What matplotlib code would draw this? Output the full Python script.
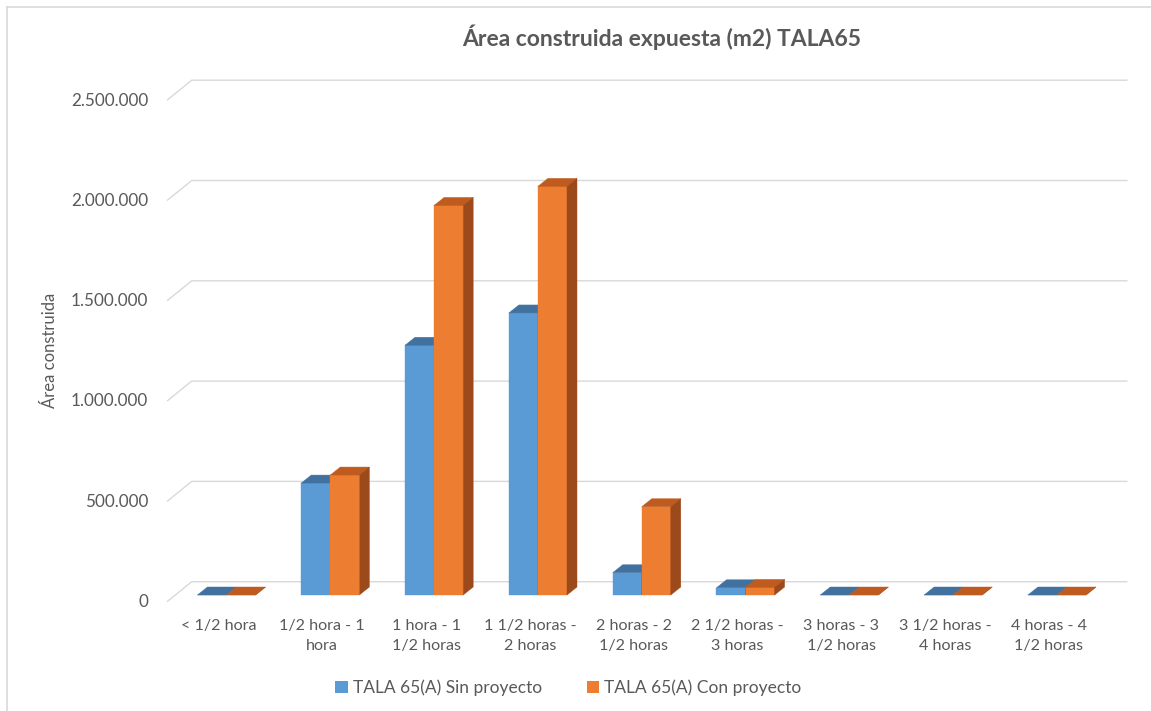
import matplotlib
matplotlib.use("Agg")
import matplotlib.pyplot as plt
from matplotlib.patches import Polygon, Patch
from matplotlib.lines import Line2D

plt.rcParams['font.family'] = ['Lato', 'DejaVu Sans']

# data
categories = ['< 1/2 hora', '1/2 hora - 1\nhora', '1 hora - 1\n1/2 horas',
              '1 1/2 horas -\n2 horas', '2 horas - 2\n1/2 horas',
              '2 1/2 horas -\n3 horas', '3 horas - 3\n1/2 horas',
              '3 1/2 horas -\n4 horas', '4 horas - 4\n1/2 horas']
sin_proyecto = [0, 558000, 1245000, 1406000, 111000, 36000, 0, 0, 0]
con_proyecto = [0, 598000, 1942000, 2037000, 440000, 38000, 0, 0, 0]
yticks = [0, 500000, 1000000, 1500000, 2000000, 2500000]
ytick_labels = ['0', '500.000', '1.000.000', '1.500.000', '2.000.000', '2.500.000']
series_names = ['TALA 65(A) Sin proyecto', 'TALA 65(A) Con proyecto']

W, H = 1151, 711
fig = plt.figure(figsize=(W / 100, H / 100), dpi=100)
ax = fig.add_axes([150 / W, (H - 615) / H, 990 / W, 555 / H])
ax.set_xlim(-0.737, 8.800)
ax.set_ylim(-99700, 2667000)
ax.axis('off')

# pixel -> data unit sizes
p0 = ax.transData.transform((0, 0))
p1 = ax.transData.transform((1, 1))
px_x = 1.0 / (p1[0] - p0[0])
px_y = 1.0 / (p1[1] - p0[1])

grid_c = '#D9D9D9'
text_c = '#595959'

# back wall gridlines with the slanted left wall edge
for v in yticks:
    xs = [-0.573, -0.573 + 24.7 * px_x, -0.573 + 960.5 * px_x]
    ys = [v - 6.7 * px_y, v + 13.3 * px_y, v + 13.3 * px_y]
    ax.plot(xs, ys, color=grid_c, lw=1.0, zorder=1, solid_capstyle='butt')

for v, lab in zip(yticks, ytick_labels):
    ax.text(-0.737 - 2 * px_x, v - 7 * px_y, lab, ha='right', va='center',
            fontsize=12.3, color=text_c, clip_on=False)

# fake 3d bars
bw = 0.28
dx = 10 * px_x
dy = 8 * px_y
colors = [('#5B9BD5', '#41729F', '#3F6E9A'), ('#ED7D31', '#BF5B1E', '#9C4A1C')]


def bar3d(x0, v, cols):
    front, top, side = cols
    x1 = x0 + bw
    for pts, c in [([(x0, 0), (x1, 0), (x1, v), (x0, v)], front),
                   ([(x0, v), (x1, v), (x1 + dx, v + dy), (x0 + dx, v + dy)], top),
                   ([(x1, 0), (x1 + dx, dy), (x1 + dx, v + dy), (x1, v)], side)]:
        ax.add_patch(Polygon(pts, closed=True, facecolor=c, edgecolor=c,
                             lw=0.3, zorder=3))


for i in range(len(categories)):
    bar3d(i - bw, sin_proyecto[i], colors[0])
    bar3d(i, con_proyecto[i], colors[1])

for i, lab in enumerate(categories):
    ax.text(i - 8 * px_x, -24 * px_y, lab, ha='center', va='top',
            fontsize=11.6, color=text_c, linespacing=1.5, clip_on=False)

fig.text(661.5 / W, 1 - 37 / H, 'Área construida expuesta (m2) TALA65',
         ha='center', va='center', fontsize=16.5, weight='bold', color=text_c)
fig.text(50 / W, 1 - 350 / H, 'Área construida', rotation=90,
         ha='center', va='center', fontsize=12, color=text_c)

handles = [Patch(facecolor=colors[0][0]), Patch(facecolor=colors[1][0])]
fig.legend(handles, series_names, loc='center',
           bbox_to_anchor=(568.5 / W, 1 - 688 / H), ncol=2, frameon=False,
           fontsize=12.5, handlelength=0.7, handleheight=0.7,
           handletextpad=0.3, columnspacing=2.6, labelcolor=text_c)

# chart frame edges visible in the crop
fig.add_artist(Line2D([6.5 / W, 6.5 / W], [0, 1 - 7 / H], color=grid_c, lw=1.2))
fig.add_artist(Line2D([6.5 / W, 1], [1 - 7 / H, 1 - 7 / H], color=grid_c, lw=1.2))

fig.savefig('out.png', dpi=100)
